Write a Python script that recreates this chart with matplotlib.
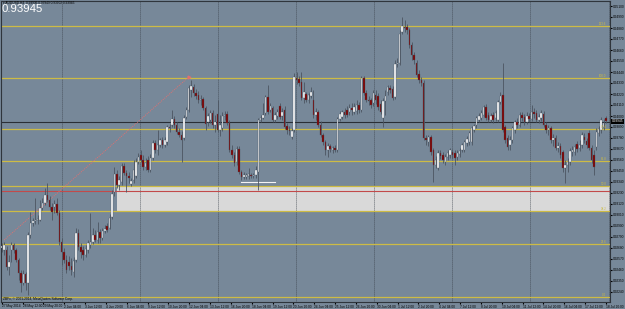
import matplotlib
matplotlib.use("Agg")
import matplotlib.pyplot as plt
import matplotlib.transforms as mtransforms
import numpy as np

plt.rcParams['font.family'] = ['Liberation Sans', 'DejaVu Sans']

symbol = "AUDUSD,H4"
last_price = 0.93945
header_quote = "0.93936 0.93949 0.93902 0.93945"
copyright_txt = "ZBFx, \u00a9 2001-2014, MetaQuotes Software Corp."

# H4 candles, prices in pips (x 1e-4)
opens = [9268, 9266, 9266, 9249, 9266, 9271, 9266, 9256, 9243, 9233, 9242, 9233, 9281, 9293,
         9295, 9296, 9296, 9308, 9313, 9321, 9316, 9309, 9309, 9312, 9303, 9274, 9264, 9256,
         9254, 9250, 9244, 9256, 9283, 9269, 9266, 9261, 9266, 9271, 9274, 9281, 9276,
         9284, 9278, 9285, 9290, 9288, 9299, 9324, 9342, 9331, 9334, 9350, 9343, 9340, 9332,
         9336, 9340, 9354, 9361, 9356, 9349, 9356, 9346, 9358, 9373, 9366, 9371, 9376, 9371,
         9374, 9389, 9391, 9397, 9391, 9384, 9381, 9378, 9399, 9406, 9426, 9429, 9423, 9421, 9416,
         9417, 9408, 9394, 9396, 9403, 9391, 9402, 9386, 9388, 9400, 9402, 9393, 9366, 9361,
         9354, 9367, 9344, 9339, 9339, 9340, 9341, 9340, 9341, 9344, 9396, 9398, 9403, 9419,
         9406, 9408, 9396, 9400, 9410, 9400, 9406, 9390, 9386, 9379, 9386, 9438, 9437, 9434,
         9418, 9422, 9416, 9420, 9416, 9401, 9404, 9391, 9381, 9374, 9366, 9370, 9366, 9368,
         9366, 9397, 9399, 9404, 9406, 9404, 9408, 9404, 9405, 9411, 9406, 9438, 9423, 9416,
         9416, 9413, 9421, 9420, 9412, 9398, 9415, 9424, 9428, 9427, 9419, 9452, 9453, 9484,
         9489, 9489,
         9486, 9471, 9461, 9453, 9442, 9436, 9433, 9378, 9374, 9379, 9366, 9351, 9348, 9363,
         9361, 9354, 9359, 9361, 9364, 9363, 9359, 9362, 9366, 9366, 9373, 9374, 9374, 9386,
         9391, 9396, 9398, 9401, 9409, 9401, 9396, 9401, 9398, 9396, 9414, 9421, 9389, 9378,
         9371, 9376, 9386, 9394, 9391, 9401, 9399, 9394, 9400, 9397, 9404, 9403, 9396, 9398,
         9402, 9391, 9386, 9388, 9376, 9378, 9368, 9370,
         9364, 9348, 9351, 9354, 9364, 9364, 9372, 9368, 9371, 9379, 9375, 9383, 9368, 9361,
         9369, 9383, 9386, 9389, 9398]
closes = [9270, 9271, 9249, 9254, 9271, 9266, 9256, 9243, 9233, 9242, 9233, 9281, 9293, 9295,
          9296, 9297, 9308, 9313, 9321, 9316, 9309, 9304, 9312, 9303, 9274, 9264, 9256, 9246,
          9250, 9246, 9255, 9283, 9269, 9264, 9261, 9267, 9273, 9274, 9281, 9276, 9284,
          9278, 9285, 9287, 9286, 9298, 9322, 9342, 9331, 9336, 9350, 9343, 9340, 9338, 9335,
          9346, 9354, 9359, 9356, 9349, 9353, 9346, 9358, 9373, 9366, 9371, 9376, 9371, 9376,
          9389, 9388, 9397, 9391, 9384, 9381, 9376, 9398, 9406, 9428, 9430, 9423, 9420, 9416, 9417,
          9408, 9392, 9400, 9403, 9391, 9394, 9386, 9391, 9400, 9401, 9393, 9366, 9361, 9353,
          9367, 9344, 9339, 9341, 9341, 9342, 9340, 9341, 9346, 9396, 9398, 9401, 9419, 9404,
          9410, 9396, 9401, 9404, 9399, 9404, 9389, 9386, 9385, 9385, 9439, 9436, 9433, 9418,
          9424, 9416, 9421, 9424, 9401, 9404, 9391, 9381, 9374, 9366, 9370, 9367, 9368, 9366,
          9397, 9402, 9404, 9401, 9401, 9408, 9406, 9409, 9411, 9406, 9438, 9423, 9416, 9415,
          9411, 9423, 9416, 9409, 9404, 9415, 9420, 9429, 9426, 9418, 9452, 9453, 9482, 9490,
          9488, 9486,
          9471, 9461, 9456, 9441, 9436, 9433, 9378, 9376, 9379, 9364, 9351, 9356, 9363, 9360,
          9356, 9359, 9363, 9366, 9361, 9358, 9363, 9365, 9371, 9374, 9377, 9383, 9388, 9390,
          9398, 9400, 9403, 9409, 9398, 9396, 9400, 9396, 9403, 9414, 9420, 9386, 9376, 9369,
          9376, 9388, 9394, 9391, 9401, 9398, 9394, 9400, 9397, 9404, 9402, 9396, 9399, 9403,
          9391, 9386, 9388, 9376, 9378, 9368, 9370, 9361,
          9348, 9351, 9354, 9365, 9366, 9369, 9367, 9371, 9381, 9376, 9371, 9368, 9356, 9349,
          9384, 9387, 9396, 9393, 9395]
highs = [9273, 9274, 9270, 9261, 9274, 9273, 9268, 9258, 9246, 9246, 9244, 9284, 9304, 9298,
         9318, 9301, 9316, 9318, 9328, 9333, 9320, 9313, 9316, 9318, 9306, 9278, 9268, 9261,
         9260, 9258, 9259, 9288, 9287, 9273, 9270, 9271, 9276, 9303, 9288, 9286, 9294,
         9287, 9288, 9291, 9293, 9302, 9326, 9349, 9346, 9340, 9353, 9353, 9346, 9344, 9338,
         9356, 9358, 9363, 9366, 9361, 9358, 9360, 9362, 9376, 9376, 9386, 9378, 9379, 9379,
         9391, 9392, 9406, 9400, 9394, 9388, 9385, 9401, 9409, 9431, 9436, 9432, 9427, 9425, 9421,
         9419, 9410, 9403, 9406, 9406, 9401, 9416, 9401, 9404, 9405, 9405, 9396, 9371, 9364,
         9370, 9370, 9346, 9344, 9343, 9348, 9343, 9343, 9350, 9398, 9401, 9413, 9421, 9431,
         9413, 9410, 9404, 9407, 9413, 9408, 9410, 9393, 9390, 9388, 9443, 9444, 9440, 9444,
         9434, 9424, 9423, 9429, 9426, 9408, 9406, 9395, 9383, 9376, 9373, 9372, 9370, 9371,
         9399, 9405, 9406, 9408, 9410, 9412, 9413, 9413, 9416, 9414, 9440, 9440, 9426, 9420,
         9418, 9426, 9426, 9423, 9416, 9418, 9426, 9431, 9431, 9430, 9456, 9458, 9486, 9499,
         9496, 9492,
         9488, 9474, 9464, 9456, 9446, 9439, 9436, 9381, 9381, 9381, 9368, 9360, 9366, 9366,
         9364, 9362, 9366, 9368, 9367, 9366, 9366, 9368, 9373, 9376, 9380, 9385, 9390, 9392,
         9400, 9403, 9406, 9411, 9412, 9404, 9403, 9404, 9406, 9416, 9424, 9453, 9391, 9381,
         9380, 9390, 9396, 9398, 9404, 9404, 9402, 9404, 9403, 9411, 9408, 9406, 9402, 9406,
         9405, 9394, 9391, 9390, 9382, 9381, 9374, 9373,
         9366, 9356, 9358, 9368, 9370, 9372, 9375, 9376, 9384, 9383, 9378, 9386, 9371, 9366,
         9388, 9390, 9399, 9397, 9400]
lows = [9264, 9261, 9246, 9241, 9254, 9263, 9254, 9236, 9224, 9231, 9226, 9221, 9278, 9290,
        9292, 9292, 9295, 9306, 9311, 9314, 9306, 9296, 9303, 9301, 9271, 9251, 9253, 9243,
        9246, 9241, 9239, 9254, 9266, 9258, 9256, 9259, 9263, 9268, 9272, 9274, 9273,
        9273, 9276, 9283, 9284, 9287, 9297, 9320, 9328, 9326, 9331, 9341, 9324, 9333, 9330,
        9333, 9338, 9352, 9354, 9346, 9346, 9344, 9344, 9356, 9363, 9361, 9369, 9368, 9369,
        9371, 9384, 9389, 9388, 9382, 9379, 9354, 9376, 9397, 9404, 9419, 9420, 9417, 9413, 9411,
        9406, 9386, 9390, 9393, 9388, 9384, 9384, 9380, 9385, 9396, 9391, 9364, 9358, 9350,
        9351, 9342, 9336, 9337, 9337, 9337, 9338, 9338, 9338, 9326, 9394, 9397, 9401, 9402,
        9404, 9394, 9394, 9397, 9397, 9396, 9387, 9382, 9381, 9377, 9384, 9432, 9430, 9416,
        9413, 9414, 9413, 9418, 9398, 9396, 9389, 9379, 9371, 9361, 9359, 9364, 9363, 9364,
        9364, 9395, 9397, 9398, 9399, 9401, 9401, 9402, 9402, 9403, 9404, 9421, 9414, 9411,
        9408, 9410, 9412, 9406, 9402, 9389, 9401, 9421, 9423, 9416, 9417, 9449, 9451, 9482,
        9484, 9482,
        9468, 9456, 9452, 9439, 9433, 9430, 9376, 9371, 9370, 9361, 9334, 9348, 9346, 9357,
        9353, 9351, 9356, 9358, 9358, 9351, 9356, 9359, 9364, 9364, 9370, 9371, 9371, 9384,
        9388, 9394, 9396, 9399, 9396, 9394, 9394, 9393, 9395, 9394, 9412, 9384, 9373, 9366,
        9366, 9373, 9383, 9388, 9389, 9395, 9391, 9392, 9394, 9395, 9398, 9394, 9393, 9395,
        9389, 9383, 9381, 9373, 9370, 9366, 9364, 9358,
        9344, 9333, 9344, 9351, 9360, 9361, 9364, 9365, 9368, 9373, 9368, 9366, 9353, 9341,
        9366, 9380, 9383, 9386, 9393]

time_labels = ["27 May 2014", "28 May 12:00", "29 May 20:00", "2 Jun 04:00", "3 Jun 12:00",
               "4 Jun 20:00", "6 Jun 04:00", "9 Jun 12:00", "10 Jun 20:00", "12 Jun 04:00",
               "13 Jun 12:00", "16 Jun 20:00", "18 Jun 04:00", "19 Jun 12:00", "20 Jun 20:00",
               "24 Jun 04:00", "25 Jun 12:00", "26 Jun 20:00", "30 Jun 04:00", "1 Jul 12:00",
               "2 Jul 20:00", "4 Jul 04:00", "7 Jul 12:00", "8 Jul 20:00", "10 Jul 04:00",
               "11 Jul 12:00", "14 Jul 20:00", "16 Jul 04:00", "17 Jul 12:00", "18 Jul 20:00"]

# fibo levels (price) and their tags
fib_levels = [0.9490, 0.9438, 0.9387, 0.9355, 0.9330, 0.9305, 0.9272, 0.9219]
fib_names = ["123.6", "100.0", "76.4", "61.8", "50.0", "38.2", "23.6", "0.0"]
zone_low, zone_high = 0.9305, 0.9330
zone_start = 48
red_level = 0.9325
trend_bars = [1, 78]
trend_prices = [0.9276, 0.9439]
white_bars = [100, 114]
white_price = 0.9334

bars_total = 233      # real H4 bars on screen
first_monday = 23
bars_week = 30
bars_label = 8

BG = '#778899'
YEL = '#cdbb45'
WICK = '#4c5561'

assert len(opens) == len(closes) == len(highs) == len(lows)
o = np.array(opens) / 1e4
c = np.array(closes) / 1e4
h = np.maximum(np.array(highs) / 1e4, np.maximum(o, c))
l = np.minimum(np.array(lows) / 1e4, np.minimum(o, c))
n = len(o)
idx = np.arange(n)
scale = (n - 1) / (bars_total - 1)

fig = plt.figure(figsize=(6.25, 3.09), dpi=100, facecolor=BG)
ax = fig.add_axes([1/625, 7/309, 609/625, 301/309])
ax.set_facecolor(BG)
xmax = n + 0.7
ax.set_xlim(-0.3, xmax)
ax.set_ylim(0.9214, 0.9515)

# zone
ax.fill_between([zone_start, xmax], zone_low, zone_high, color='#d9d9d9', zorder=1, lw=0)

# week separators
for k in range(8):
    ax.axvline((first_monday + k * bars_week) * scale, color='#3b424b', lw=0.6,
               ls=(0, (1, 1.4)), zorder=2)

# horizontal levels
for lev, name in zip(fib_levels, fib_names):
    ax.axhline(lev, color=YEL, lw=0.9, zorder=2)
    ax.text(xmax - 1.5, lev, name, color=YEL, fontsize=2.2, ha='right', va='bottom', zorder=6)
ax.axhline(red_level, color='#c24a4a', lw=0.8, zorder=2)
ax.axhline(last_price, color='#2a2f36', lw=0.8, zorder=2)

# trend line and marker line
ax.plot(trend_bars, trend_prices, color='#e07070', lw=0.7, ls=(0, (1, 1.2)), zorder=3)
ax.plot(trend_bars[1], trend_prices[1], marker='>', ms=2, color='#e07070', zorder=3)
ax.plot(white_bars, [white_price, white_price], color='#f4f4f4', lw=0.8, zorder=3)

# candles
up = c >= o
ax.vlines(idx, l, h, color=WICK, lw=0.6, zorder=4)
body = np.maximum(np.abs(c - o), 0.00003)
ax.bar(idx, body, bottom=np.minimum(o, c), width=0.62,
       color=np.where(up, '#ffffff', '#800000'), edgecolor=WICK, linewidth=0.25, zorder=5)

# axes styling
for s in ax.spines.values():
    s.set_color('#2f353c')
    s.set_linewidth(0.8)
ax.yaxis.tick_right()
pt = np.arange(0.9510, 0.9214, -0.0011)
ax.set_yticks(pt)
ax.set_yticklabels(['%.5f' % p for p in pt])
ax.tick_params(axis='y', labelsize=2.3, length=1.2, pad=0.8, colors='black')
lab_pos = np.arange(len(time_labels)) * bars_label * scale
ax.set_xticks(lab_pos)
ax.set_xticklabels(time_labels, ha='left')
ax.tick_params(axis='x', labelsize=2.3, length=1.2, pad=0.6, colors='black')

# current price tag
tr = mtransforms.blended_transform_factory(ax.transAxes, ax.transData)
ax.text(1.003, last_price, '%.5f' % last_price, transform=tr, fontsize=2.3, color='white',
        va='center', ha='left', zorder=7,
        bbox=dict(boxstyle='square,pad=0.15', fc='black', ec='none'))

# texts
fig.text(3/625, 1 - 0.5/309, '\u25be ' + symbol + '  ' + header_quote, fontsize=2.3,
         color='black', va='top', ha='left')
fig.text(2/625, 1 - 4/309, '%.5f' % last_price, fontsize=8.2, color='white',
         va='top', ha='left')
ax.text(0.003, 0.003, copyright_txt, transform=ax.transAxes, fontsize=2.3,
        color='black', va='bottom', ha='left')

fig.savefig('out.png', dpi=100, facecolor=BG)
